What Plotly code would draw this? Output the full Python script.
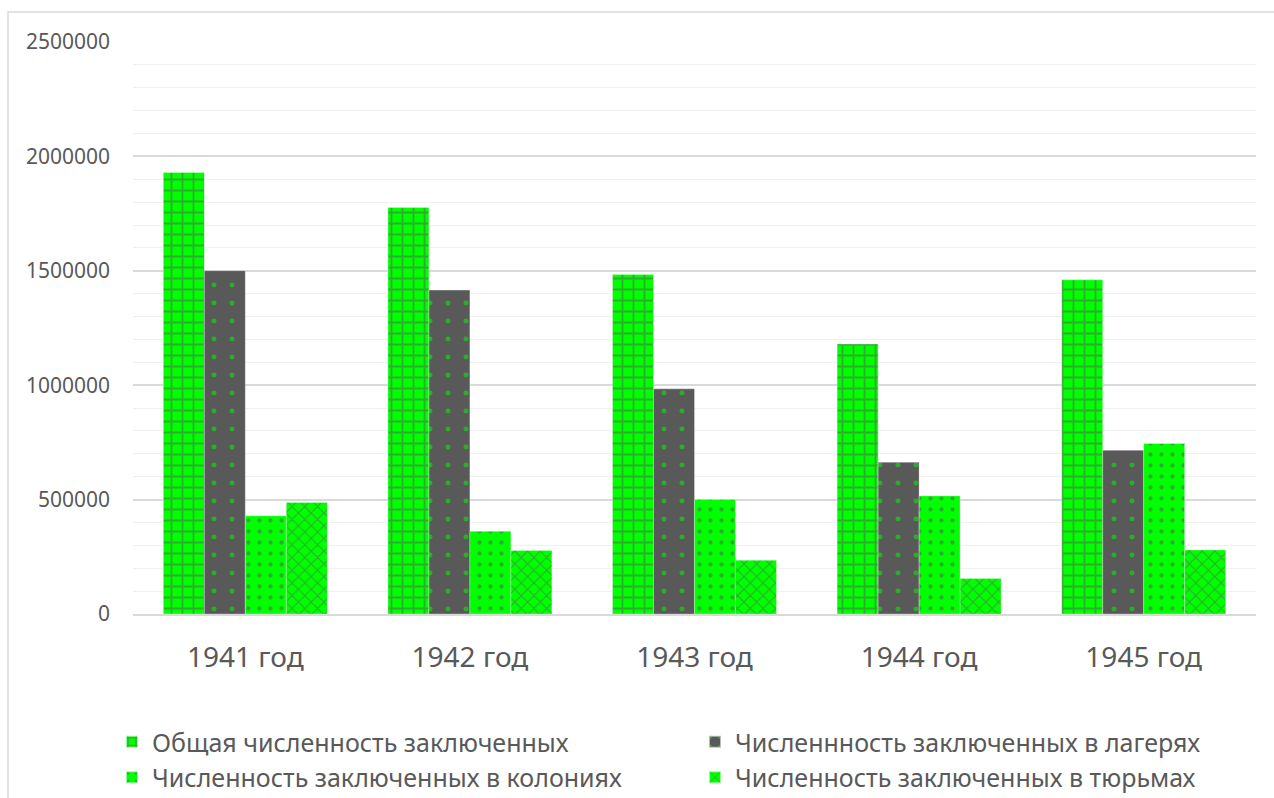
import plotly.graph_objects as go

categories = ["1941 год", "1942 год", "1943 год", "1944 год", "1945 год"]
series_names = [
    "Общая численность заключенных",
    "Численнность заключенных в лагерях",
    "Численность заключенных в колониях",
    "Численность заключенных в тюрьмах",
]
total = [1929729, 1777043, 1484182, 1179819, 1460677]
camps = [1500524, 1415596, 983974, 663594, 715506]
colonies = [429205, 361447, 500208, 516225, 745171]
prisons = [487739, 277992, 235313, 155213, 279969]
y_ticks = [0, 500000, 1000000, 1500000, 2000000, 2500000]

GREEN = "#00ff00"
GREY = "#595959"
FONT = "Noto Sans"

styles = [
    dict(color=GREEN, pattern=dict(shape="+", fgcolor=GREY, bgcolor=GREEN, size=11, solidity=0.3, fillmode="overlay")),
    dict(color=GREY, pattern=dict(shape=".", fgcolor=GREEN, bgcolor=GREY, size=18, solidity=0.06, fillmode="overlay")),
    dict(color=GREEN, pattern=dict(shape=".", fgcolor=GREY, bgcolor=GREEN, size=11, solidity=0.12, fillmode="overlay")),
    dict(color=GREEN, pattern=dict(shape="x", fgcolor=GREY, bgcolor=GREEN, size=9, solidity=0.22, fillmode="overlay")),
]

fig = go.Figure()
for name, vals, st in zip(series_names, [total, camps, colonies, prisons], styles):
    fig.add_trace(go.Bar(
        x=categories, y=vals, name=name,
        marker=dict(color=st["color"], pattern=st["pattern"], line=dict(color="rgba(255,255,255,0.6)", width=0.5)),
    ))

L, R, T, B = 133, 18, 42, 184
PW = 1274 - L - R
PH = 798 - T - B

fig.update_layout(
    width=1274, height=798,
    margin=dict(l=L, r=R, t=T, b=B, autoexpand=False),
    paper_bgcolor="white", plot_bgcolor="white",
    barmode="group", bargap=0.27, bargroupgap=0,
    font=dict(family=FONT, color=GREY),
    showlegend=True,
    legend=dict(
        orientation="h", x=(112 - L) / PW, y=-(719 - 614) / PH, xanchor="left", yanchor="top",
        font=dict(size=25, color=GREY, family=FONT),
        entrywidth=538, entrywidthmode="pixels",
        traceorder="normal", itemsizing="constant", tracegroupgap=0,
    ),
    xaxis=dict(
        tickfont=dict(size=28, color=GREY, family=FONT),
        showgrid=False, showline=True, linecolor="#d9d9d9", linewidth=1.5,
        ticks="", ticklabelstandoff=18, automargin=False,
    ),
    yaxis=dict(
        range=[0, 2500000], tickvals=y_ticks, ticktext=[str(v) for v in y_ticks],
        tickfont=dict(size=21, color=GREY, family=FONT),
        showgrid=True, gridcolor="#d9d9d9", gridwidth=1.5,
        zeroline=False, showline=False, ticks="", ticklabelstandoff=22, automargin=False,
        minor=dict(dtick=100000, showgrid=True, gridcolor="#f0f0f0", gridwidth=1),
    ),
    shapes=[dict(type="rect", xref="paper", yref="paper",
                 x0=(8 - L) / PW, x1=(1290 - L) / PW, y0=-(820 - 614) / PH, y1=(614 - 12) / PH,
                 line=dict(color="#d9d9d9", width=1.5), fillcolor="rgba(0,0,0,0)", layer="below")],
)

fig.write_html(
    "out.html",
    config={"displayModeBar": False},
    post_script="document.body.style.margin='0';document.body.style.overflow='hidden';",
)
